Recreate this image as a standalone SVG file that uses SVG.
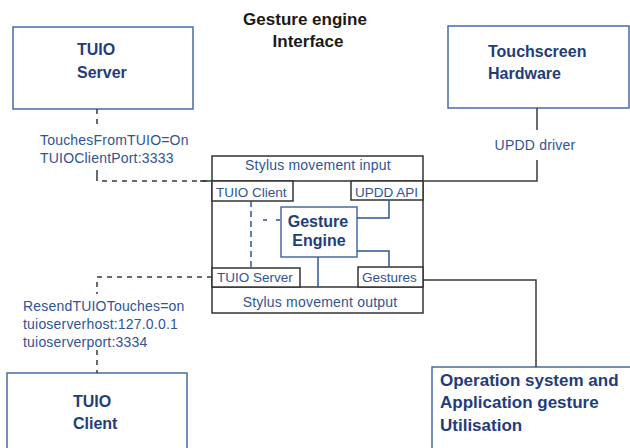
<svg xmlns="http://www.w3.org/2000/svg" width="630" height="448" viewBox="0 0 630 448">
<style>
.bg{fill:#ffffff}
.node{fill:#ffffff;stroke:#4a6aa3;stroke-width:1.5}
.frame{fill:#ffffff;stroke:#333333;stroke-width:1.5}
.title{font-family:"Liberation Sans",Arial,sans-serif;font-weight:bold;font-size:16px;fill:#1f3d7a}
.head{font-family:"Liberation Sans",Arial,sans-serif;font-weight:bold;font-size:17px;fill:#1a1a1a}
.lbl{font-family:"Liberation Sans",Arial,sans-serif;font-size:14px;fill:#2f5496;letter-spacing:0.2px}
.sub{letter-spacing:0px;font-size:13.5px}
.conn{fill:none;stroke:#3a3a3a;stroke-width:1.5}
.dash{stroke-dasharray:5 5}
.inner{fill:none;stroke:#2f5496;stroke-width:1.5}
</style>
<rect class="bg" x="0" y="0" width="630" height="448"/>
<g id="title">
<text class="head" x="305" y="25" text-anchor="middle">Gesture engine</text>
<text class="head" x="308" y="47" text-anchor="middle">Interface</text>
</g>
<g id="tuio-server">
<rect class="node" x="13" y="27" width="180" height="82"/>
<text class="title" x="77" y="55">TUIO</text>
<text class="title" x="77" y="78">Server</text>
</g>
<g id="touchscreen">
<rect class="node" x="448" y="26" width="181" height="82"/>
<text class="title" x="488" y="57">Touchscreen</text>
<text class="title" x="488" y="79">Hardware</text>
</g>
<g id="tuio-client">
<rect class="node" x="7" y="373" width="180" height="90"/>
<text class="title" x="73" y="407">TUIO</text>
<text class="title" x="73" y="429">Client</text>
</g>
<g id="os-app">
<rect class="node" x="432" y="367" width="210" height="90"/>
<text class="title" x="440" y="386" style="font-size:17px">Operation system and</text>
<text class="title" x="440" y="408" style="font-size:17px">Application gesture</text>
<text class="title" x="440" y="431" style="font-size:17px">Utilisation</text>
</g>
<g id="gesture-interface">
<rect class="frame" x="212" y="156" width="211" height="157"/>
<line class="frame" x1="212" y1="181" x2="423" y2="181"/>
<line class="frame" x1="212" y1="287" x2="423" y2="287"/>
<text class="lbl" x="318" y="170" text-anchor="middle">Stylus movement input</text>
<text class="lbl" x="320" y="307" text-anchor="middle">Stylus movement output</text>
</g>
<g id="tuio-client-port">
<rect class="frame" x="212" y="181" width="81" height="20"/>
<text class="lbl sub" x="216" y="197">TUIO Client</text>
</g>
<g id="updd-api">
<rect class="frame" x="351" y="181" width="72" height="19"/>
<text class="lbl sub" x="355" y="197">UPDD API</text>
</g>
<g id="tuio-server-port">
<rect class="frame" x="212" y="268" width="88" height="19"/>
<text class="lbl sub" x="217" y="282">TUIO Server</text>
</g>
<g id="gestures">
<rect class="frame" x="358" y="267" width="65" height="20"/>
<text class="lbl sub" x="362" y="282">Gestures</text>
</g>
<g id="gesture-engine">
<rect class="node" x="281" y="207" width="76" height="50"/>
<text class="title" x="318" y="227" text-anchor="middle">Gesture</text>
<text class="title" x="319" y="246" text-anchor="middle">Engine</text>
</g>
<g id="connectors">
<polyline class="conn dash" points="97,109 97,128"/>
<polyline class="conn" points="97,170 97,181"/>
<polyline class="conn dash" points="102,181 212,181"/>
<line class="conn" x1="200" y1="181" x2="212" y2="181"/>
<polyline class="conn" points="537,108 537,130"/>
<polyline class="conn" points="537,160 537,181 423,181"/>
<polyline class="conn dash" points="212,277 97,277 97,294"/>
<polyline class="conn dash" points="97,350 97,373"/>
<polyline class="conn" points="423,280 536,280 536,367"/>
<line class="inner" x1="251" y1="201" x2="251" y2="268" style="stroke-dasharray:6 4"/>
<line class="inner" x1="263" y1="220" x2="281" y2="220" style="stroke-dasharray:4 9"/>
<polyline class="inner" points="357,218 389,218 389,200"/>
<polyline class="inner" points="357,251 389,251 389,267"/>
<line class="inner" x1="318" y1="257" x2="318" y2="287"/>
</g>
<g id="labels">
<text class="lbl" x="40" y="145">TouchesFromTUIO=On</text>
<text class="lbl" x="40" y="163">TUIOClientPort:3333</text>
<text class="lbl" x="535" y="150" text-anchor="middle">UPDD driver</text>
<text class="lbl" x="23" y="311">ResendTUIOTouches=on</text>
<text class="lbl" x="23" y="329">tuioserverhost:127.0.0.1</text>
<text class="lbl" x="23" y="347">tuioserverport:3334</text>
</g>
</svg>
